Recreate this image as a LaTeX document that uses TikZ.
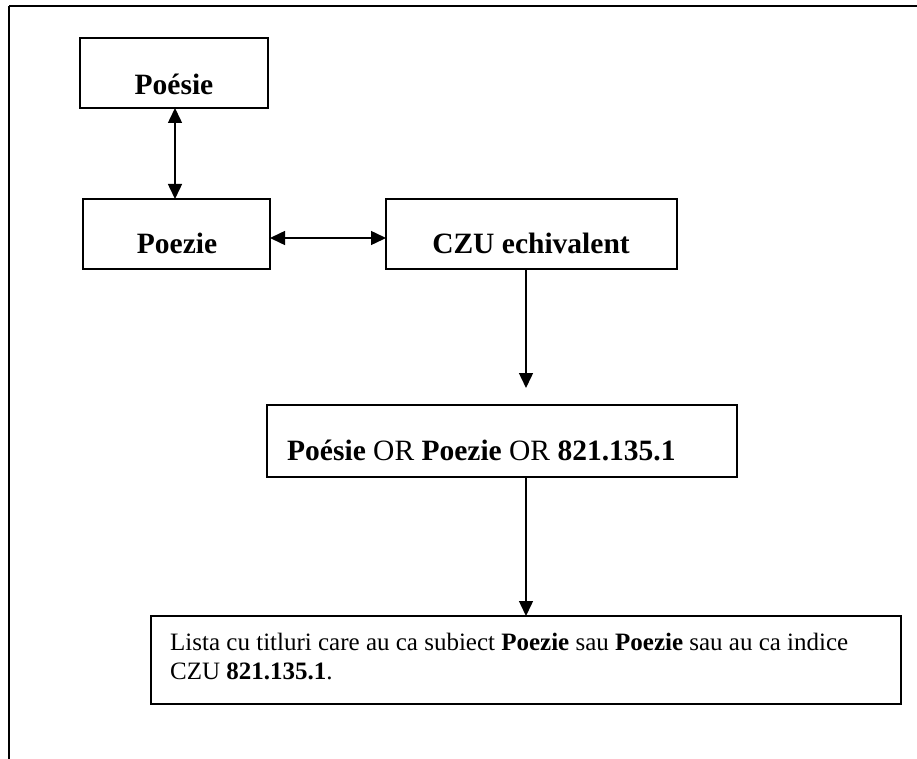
\documentclass[tikz,border=0pt]{standalone}
\usepackage{fontspec}
\setmainfont{Liberation Serif}
\usetikzlibrary{arrows.meta}
\begin{document}
\begin{tikzpicture}[x=1pt,y=-1pt,
  frame/.style={line width=2pt},
  box/.style={draw,line width=2pt,rectangle,inner sep=0pt,outer sep=0pt},
  title/.style={font=\fontsize{29.5}{34}\selectfont\bfseries,inner sep=0pt,anchor=base},
  body/.style={font=\fontsize{29.5}{34}\selectfont,inner sep=0pt,anchor=base west},
  note/.style={font=\fontsize{25}{29}\selectfont,inner sep=0pt,anchor=base west},
  tip/.tip={Triangle[width=14pt,length=15pt]},
  link/.style={line width=1.5pt,-tip},
  twoway/.style={line width=1.5pt,tip-tip}]
  \useasboundingbox (0,0) rectangle (917,759);

  % outer frame: top and left rules only
  \draw[frame] (9,6) -- (917,6);
  \draw[frame] (9,6) -- (9,759);

  % boxes
  \node[box,minimum width=188pt,minimum height=70pt] (poesie) at (174,73) {};
  \node[box,minimum width=187pt,minimum height=70pt] (poezie) at (176.5,234) {};
  \node[box,minimum width=291pt,minimum height=70pt] (czu) at (531.5,234) {};
  \node[box,minimum width=470pt,minimum height=72pt] (query) at (502,441) {};
  \node[box,minimum width=750pt,minimum height=88pt] (result) at (526,660) {};

  % box texts
  \node[title] (tpoesie) at (174,95) {Poésie};
  \node[title] (tpoezie) at (177,253) {Poezie};
  \node[title] (tczu) at (531,253) {CZU echivalent};
  \node[body] (tquery) at (287,460) {\textbf{Poésie} OR \textbf{Poezie} OR \textbf{821.135.1}};
  \node[note] (tresulta) at (170,650)
    {Lista cu titluri care au ca subiect \textbf{Poezie} sau \textbf{Poezie} sau au ca indice};
  \node[note] (tresultb) at (170,679) {CZU \textbf{821.135.1}.};

  % connectors
  \coordinate (czuout) at (526,269);
  \coordinate (queryin) at (526,388);
  \coordinate (queryout) at (526,477);
  \coordinate (resultin) at (526,616);
  \draw[twoway] (poesie.south) ++(1,0) coordinate (pa) -- (pa |- poezie.north);
  \draw[twoway] (poezie.east |- 0,238) -- (czu.west |- 0,238);
  \draw[link] (czuout) -- (queryin);
  \draw[link] (queryout) -- (resultin);
\end{tikzpicture}
\end{document}
